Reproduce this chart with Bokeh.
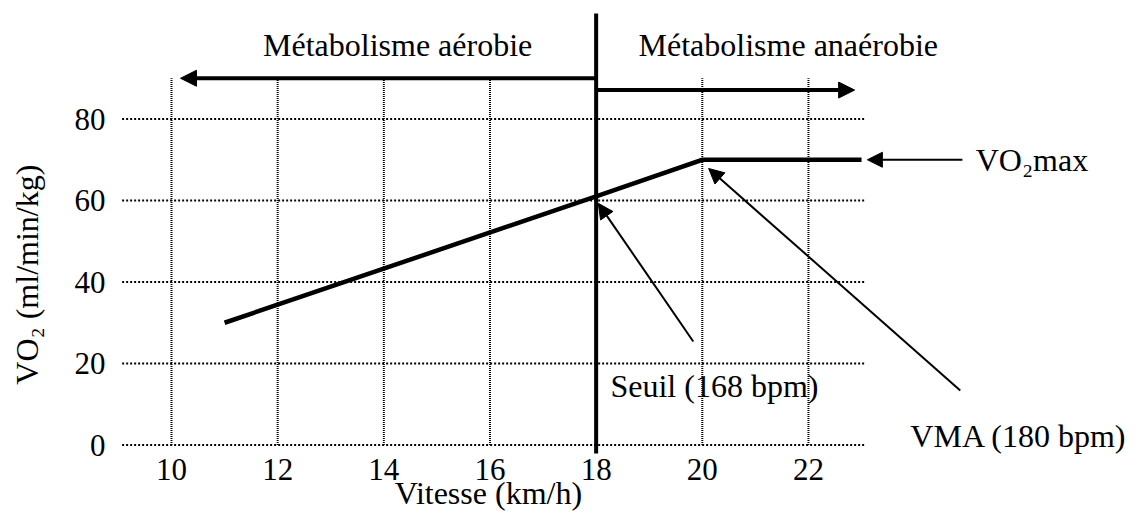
import math
from bokeh.plotting import figure
from bokeh.models import Range1d, Label, Arrow, NormalHead
from bokeh.core.properties import value
from bokeh.embed import file_html
from bokeh.resources import INLINE

# ---- data ----
speed = [11, 18, 20, 23]          # km/h
vo2 = [30, 61, 70, 70]            # ml/min/kg
x_ticks = [10, 12, 14, 16, 18, 20, 22]
x_tick_labels = [str(v) for v in x_ticks]
y_ticks = [0, 20, 40, 60, 80]
y_tick_labels = [str(v) for v in y_ticks]
threshold_speed = 18
vo2max = 70

FONT = "Liberation Serif"
FS_TICK = "31px"
FS = "32px"
W, H = 1127, 513
# scale: 53.08 px per km/h (x=10 at 171 px), 4.075 px per unit (y=0 at 444.5 px)
x0 = 10 - 171 / 53.08
x1 = x0 + W / 53.08
y1 = 444.5 / 4.075
y0 = y1 - H / 4.075

p = figure(width=W, height=H, x_range=Range1d(x0, x1), y_range=Range1d(y0, y1),
           output_backend="svg", toolbar_location=None,
           x_axis_location=None, y_axis_location=None,
           min_border=0, min_border_left=0, min_border_right=0,
           min_border_top=0, min_border_bottom=0)
p.outline_line_color = None
p.xgrid.visible = False
p.ygrid.visible = False
p.background_fill_color = "white"
p.border_fill_color = "white"

# dotted grid
p.segment(x0=[9.07] * len(y_ticks), y0=y_ticks, x1=[23.07] * len(y_ticks), y1=y_ticks,
          line_color="black", line_width=2, line_dash="2 2")
p.segment(x0=x_ticks, y0=[0] * len(x_ticks), x1=x_ticks, y1=[90] * len(x_ticks),
          line_color="black", line_width=2, line_dash="1 1")

# tick labels
p.text(x=x_ticks, y=[-6.0] * len(x_ticks), text=x_tick_labels,
       text_font=value(FONT), text_font_size=value(FS_TICK), text_color="black",
       text_align="center", text_baseline="middle")
p.text(x=[8.757] * len(y_ticks), y=y_ticks, text=y_tick_labels,
       text_font=value(FONT), text_font_size=value(FS_TICK), text_color="black",
       text_align="right", text_baseline="middle")

# threshold vertical line
p.segment(x0=[threshold_speed], y0=[-2.1], x1=[threshold_speed], y1=[105.9],
          line_color="black", line_width=4)

# VO2 curve
p.line(speed, vo2, line_color="black", line_width=4.5, line_join="miter")

def arrow(xs, ys, xe, ye, w, size):
    p.add_layout(Arrow(end=NormalHead(size=size, fill_color="black", line_color="black", line_width=1),
                       x_start=xs, y_start=ys, x_end=xe, y_end=ye,
                       line_color="black", line_width=w))

arrow(threshold_speed, 90, 10.17, 90, 4, 16)
arrow(threshold_speed, 87.1, 22.87, 87.1, 4, 16)
arrow(24.90, vo2max, 23.11, vo2max, 2, 15)
arrow(19.83, 25.4, 18.04, 59.3, 2, 15)
arrow(24.86, 13.4, 20.12, 67.85, 2, 15)

def label(x, y, t, align="left", angle=0.0):
    p.add_layout(Label(x=x, y=y, text=t, text_font=FONT, text_font_size=FS,
                       text_align=align, text_baseline="middle", text_color="black",
                       angle=angle))

label(14.26, 98.04, "Métabolisme aérobie", "center")
label(21.62, 98.04, "Métabolisme anaérobie", "center")
label(25.15, 69.82, "VO₂max")
label(18.27, 14.6, "Seuil (168 bpm)")
label(23.92, 2.33, "VMA (180 bpm)")
label(15.97, -11.9, "Vitesse (km/h)", "center")
label(7.287, 41.8, "VO₂ (ml/min/kg)", "center", math.pi / 2)

open("out.html", "w").write(file_html(p, INLINE))
